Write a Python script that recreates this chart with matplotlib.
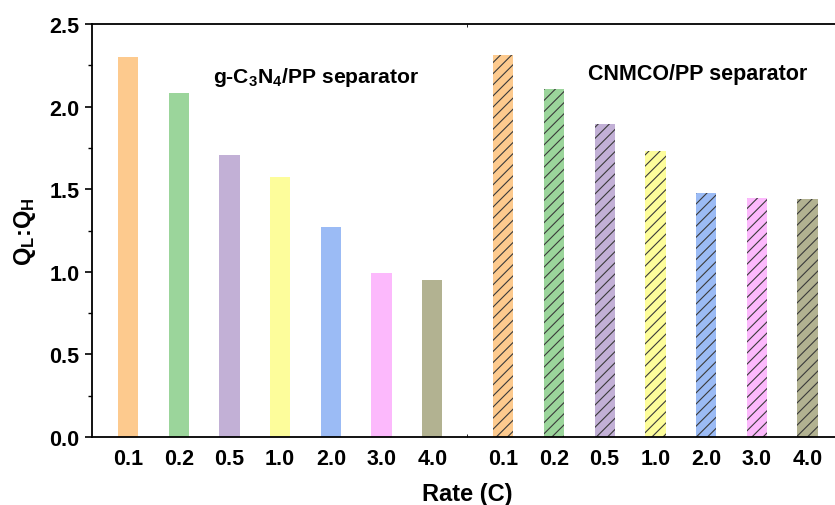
import numpy as np
import matplotlib.pyplot as plt
from matplotlib.ticker import MultipleLocator, NullFormatter

plt.rcParams['font.family'] = ['Liberation Sans', 'DejaVu Sans']
plt.rcParams['font.weight'] = 'bold'
plt.rcParams['mathtext.fontset'] = 'custom'
plt.rcParams['mathtext.rm'] = 'Liberation Sans:bold'
plt.rcParams['mathtext.it'] = 'Liberation Sans:bold'
plt.rcParams['mathtext.bf'] = 'Liberation Sans:bold'
plt.rcParams['mathtext.default'] = 'rm'
plt.rcParams['hatch.color'] = '#3a3a3a'
plt.rcParams['hatch.linewidth'] = 0.8

# rate capability, Q_L : Q_H ratio at each C-rate
rates = ['0.1', '0.2', '0.5', '1.0', '2.0', '3.0', '4.0']
ratio_gcn = [2.30, 2.08, 1.707, 1.572, 1.269, 0.991, 0.952]
ratio_cnmco = [2.314, 2.107, 1.897, 1.733, 1.475, 1.447, 1.439]
colors = ['#FDCA8E', '#9BD59B', '#C2B0D6', '#FDFD9B', '#9BBBF5', '#FCB9FC', '#B2B291']

# ---------------------------------------------------------------------------- #
n = len(rates)
x1 = np.arange(n)
x2 = np.arange(n) + 7.4   # second group shifted right with a gap
w = 0.4

fig = plt.figure(figsize=(8.35, 5.06), dpi=100)
ax = fig.add_axes([92/835, 1-438/506, 750/835, 413/506])

ax.bar(x1, ratio_gcn, width=w, color=colors, linewidth=0)
ax.bar(x2, ratio_cnmco, width=w, color=colors, linewidth=0, hatch='///')

ax.set_xlim(-0.71, 14.08)
ax.set_ylim(0, 2.5)

ax.set_xticks(np.concatenate((x1, x2)))
ax.set_xticklabels(rates + rates)
ax.set_xticks([6.69], minor=True)
ax.xaxis.set_minor_formatter(NullFormatter())
ax.tick_params(axis='x', which='major', length=0, pad=8, labelsize=15.5)
ax.tick_params(axis='x', which='minor', length=2, direction='in', top=True)

ax.yaxis.set_major_locator(MultipleLocator(0.5))
ax.yaxis.set_minor_locator(MultipleLocator(0.25))
ax.tick_params(axis='y', which='major', length=5, width=1.2, labelsize=15.5, pad=4)
ax.tick_params(axis='y', which='minor', length=3, width=1.0)

for s in ['left', 'bottom', 'top']:
    ax.spines[s].set_linewidth(1.3)
ax.spines['right'].set_visible(False)

ax.set_xlabel('Rate (C)', fontsize=17, fontweight='bold', labelpad=9)
ax.set_ylabel('Q$_L$:Q$_H$', fontsize=17, fontweight='bold', labelpad=8)

ax.text(0.161, 0.874, 'g-C$_3$N$_4$/PP separator',
        transform=ax.transAxes, fontsize=15.2, fontweight='bold', va='center', ha='left')
ax.text(0.661, 0.879, 'CNMCO/PP separator',
        transform=ax.transAxes, fontsize=15.5, fontweight='bold', va='center', ha='left')

plt.savefig('out.png', dpi=100)
